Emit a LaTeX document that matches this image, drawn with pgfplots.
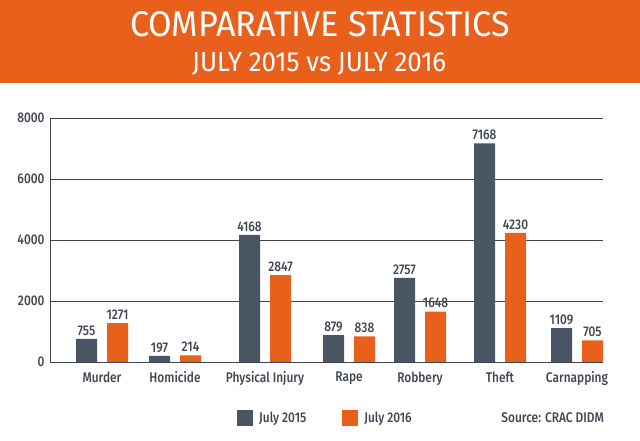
\documentclass[border=0pt]{standalone}
\usepackage{graphicx}
\usepackage{pgfplots}
\pgfplotsset{compat=1.18}
\usepackage{fontspec}
\setmainfont{Fira Sans}
\newfontfamily\lbl[FakeStretch=0.85]{Fira Sans Medium}
\newfontfamily\ttl{Fira Sans}
\definecolor{orng}{RGB}{232,96,28}
\definecolor{slate}{RGB}{74,85,99}
\definecolor{txt}{RGB}{63,70,81}
\begin{document}
\begin{tikzpicture}[x=1pt,y=1pt]
\fill[white] (0,0) rectangle (640,441);
\fill[orng] (0,358) rectangle (640,441);
\node[anchor=base west,inner sep=0,text=white] at (130,404) {\resizebox{380pt}{25pt}{\ttl COMPARATIVE STATISTICS}};
\node[anchor=base west,inner sep=0,text=white] at (192,369) {\resizebox{254pt}{19pt}{\ttl JULY 2015 vs JULY 2016}};
\begin{axis}[
  at={(50pt,79pt)}, anchor=south west,
  scale only axis, width=553pt, height=244pt,
  xmin=50, xmax=603, ymin=0, ymax=8000,
  ybar,
  axis x line*=bottom, axis y line*=left,
  axis line style={draw=txt, line width=0.9pt},
  major tick length=0pt,
  ytick={0,2000,4000,6000,8000},
  ymajorgrids, grid style={draw=txt, line width=0.8pt},
  scaled ticks=false,
  /pgf/number format/1000 sep={},
  /pgf/number format/assume math mode=true,
  xtick={102,175,265,349,420,500,577},
  xticklabels={Murder,Homicide,Physical Injury,Rape,Robbery,Theft,Carnapping},
  ticklabel style={font=\lbl\fontsize{14}{14}\selectfont, text=txt},
  xticklabel style={yshift=-6pt},
  yticklabel style={xshift=-2pt},
  nodes near coords,
  every node near coord/.append style={font=\lbl\fontsize{14}{14}\selectfont, text=txt, yshift=0pt},
  legend columns=2,
  legend style={at={(0.3382,-0.2295)}, anchor=west, draw=none, fill=none, inner sep=0pt,
    font=\lbl\fontsize{14}{14}\selectfont, text=txt,
    /tikz/every odd column/.append style={column sep=4pt},
    /tikz/every even column/.append style={column sep=34pt}},
  legend image code/.code={\fill[#1] (0pt,-8pt) rectangle (16pt,8pt);},
]
\addplot[fill=slate, draw=none, bar width=21pt, bar shift=-15.5pt] coordinates {
(102,755) (175,197) (265,4168) (349,879) (420,2757) (500,7168) (577,1109)};
\addplot[fill=orng, draw=none, bar width=21pt, bar shift=15.5pt] coordinates {
(102,1271) (175,214) (265,2847) (349,838) (420,1648) (500,4230) (577,705)};
\legend{July 2015, July 2016}
\end{axis}
\node[anchor=east, inner sep=0, text=txt, font=\lbl\fontsize{14}{14}\selectfont] at (604,23) {Source: CRAC DIDM};
\end{tikzpicture}
\end{document}
